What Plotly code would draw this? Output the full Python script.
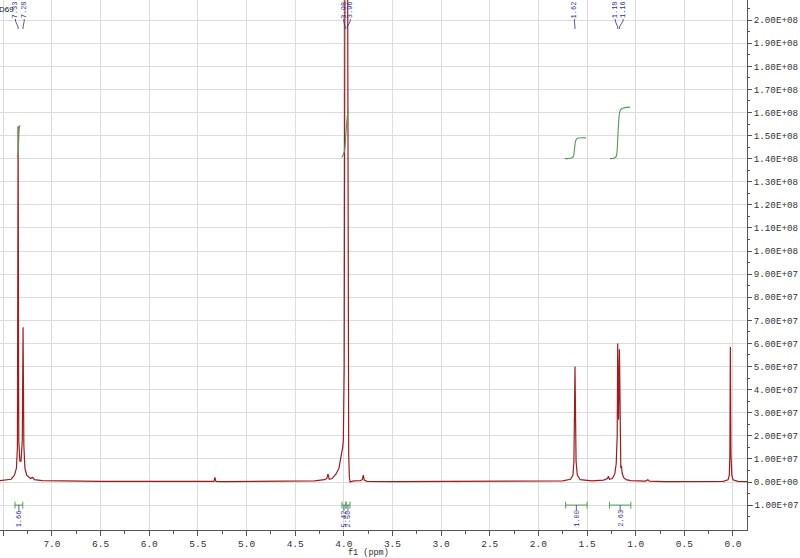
import plotly.graph_objects as go

# ---------------- data ----------------
ppm = [7.55, 7.42, 7.385, 7.365, 7.355, 7.348, 7.341, 7.33, 7.318, 7.305, 7.297, 7.289,
       7.278, 7.26, 7.22, 7.20, 7.18, 7.10, 6.5, 5.40, 5.335, 5.325, 5.315, 5.25,
       4.30, 4.20, 4.175, 4.163, 4.15, 4.12, 4.08, 4.05, 4.03, 4.012, 4.005, 3.996,
       3.986, 3.978, 3.972, 3.965, 3.958, 3.950, 3.943, 3.935, 3.90, 3.83, 3.81, 3.80,
       3.79, 3.76, 3.5, 2.5, 1.75, 1.67, 1.645, 1.635, 1.624, 1.613, 1.60, 1.57, 1.45,
       1.33, 1.29, 1.28, 1.27, 1.24, 1.215, 1.20, 1.19, 1.185, 1.176, 1.167, 1.160,
       1.153, 1.146, 1.140, 1.125, 1.10, 1.05, 0.90, 0.875, 0.86, 0.70, 0.10, 0.05,
       0.038, 0.032, 0.027, 0.021, 0.012, 0.0, -0.05, -0.15]
intensity_e7 = [0.05, 0.12, 0.3, 0.6, 1.5, 15.4, 1.8, 0.9, 0.9, 1.8, 6.7, 1.6,
                0.6, 0.3, 0.15, 0.2, 0.1, 0.06, 0.03, 0.02, 0.03, 0.2, 0.03, 0.02,
                0.05, 0.1, 0.15, 0.35, 0.12, 0.15, 0.35, 0.6, 1.0, 1.5, 1.8, 5.0,
                30.0, 26.0, 24.0, 30.0, 8.0, 1.2, 0.2, 0.0, 0.05, 0.06, 0.1, 0.3,
                0.08, 0.03, 0.02, 0.02, 0.05, 0.12, 0.3, 0.9, 5.0, 0.9, 0.3, 0.1, 0.05,
                0.08, 0.15, 0.25, 0.12, 0.15, 0.35, 0.8, 2.0, 6.0, 2.7, 5.75, 1.5,
                0.6, 0.7, 0.4, 0.2, 0.1, 0.06, 0.04, 0.1, 0.04, 0.02, 0.03, 0.1,
                0.3, 1.2, 5.85, 1.2, 0.3, 0.1, 0.03, 0.02]

# peak picking labels
peak_labels = ["7.33", "7.28", "3.98", "3.96", "1.62", "1.18", "1.16"]
peak_pos = [7.348, 7.297, 3.985, 3.965, 1.624, 1.185, 1.167]
label_pos = [7.375, 7.285, 4.002, 3.934, 1.630, 1.210, 1.130]

# integrals: region start, end, value
int_start = [7.38, 4.019, 3.978, 1.72, 1.27]
int_end = [7.30, 3.978, 3.937, 1.50, 1.05]
int_values = ["1.66", "5.42", "2.50", "1.00", "2.63"]

# integral curves (green), ppm and height
int_curve_7 = ([7.363, 7.350, 7.343, 7.336, 7.329], [1.41e8, 1.415e8, 1.47e8, 1.53e8, 1.545e8])
int_curve_4 = ([4.020, 3.995, 3.980, 3.965, 3.955], [1.405e8, 1.43e8, 1.50e8, 1.58e8, 1.61e8])
int_curve_16 = ([1.727, 1.66, 1.64, 1.632, 1.624, 1.615, 1.60, 1.51],
                [1.400e8, 1.403e8, 1.41e8, 1.43e8, 1.46e8, 1.48e8, 1.488e8, 1.49e8])
int_curve_11 = ([1.264, 1.22, 1.20, 1.19, 1.183, 1.175, 1.165, 1.15, 1.12, 1.058],
                [1.400e8, 1.403e8, 1.41e8, 1.44e8, 1.50e8, 1.56e8, 1.60e8, 1.615e8, 1.62e8, 1.623e8])

y_ticks = [v * 1e7 for v in range(-1, 21)]
x_ticks = [7.5, 7.0, 6.5, 6.0, 5.5, 5.0, 4.5, 4.0, 3.5, 3.0, 2.5, 2.0, 1.5, 1.0, 0.5, 0.0]
x_ticktext = [".5", "7.0", "6.5", "6.0", "5.5", "5.0", "4.5", "4.0", "3.5", "3.0",
              "2.5", "2.0", "1.5", "1.0", "0.5", "0.0"]

# ---------------- figure ----------------
RED = "#a01c1c"
GREEN = "#4f9e4f"
BLUE = "#2e3192"
FONT = "Liberation Mono"

fig = go.Figure()
fig.add_trace(go.Scatter(x=ppm, y=[v * 1e7 for v in intensity_e7], mode="lines",
                         line=dict(color=RED, width=1.2), hoverinfo="skip"))
for cx, cy in [int_curve_7, int_curve_4, int_curve_16, int_curve_11]:
    fig.add_trace(go.Scatter(x=cx, y=cy, mode="lines", line=dict(color=GREEN, width=1.1,
                             shape="spline"), hoverinfo="skip"))

PLOT_H = 530.0
PLOT_W = 747.0
def py(p):
    return 1 - p / PLOT_H

shapes = []
annotations = []
for txt, pk, lp in zip(peak_labels, peak_pos, label_pos):
    annotations.append(dict(x=lp, y=py(10), xref="x", yref="paper", text=txt,
                            textangle=-90, showarrow=False, font=dict(family=FONT, size=7, color=BLUE),
                            xanchor="center", yanchor="middle"))
    shapes.append(dict(type="path", xref="x", yref="paper",
                       path=f"M {lp},{py(19)} L {lp},{py(21)} L {pk},{py(27)} L {pk},{py(29)}",
                       line=dict(color=BLUE, width=0.8)))

for s, e, v in zip(int_start, int_end, int_values):
    c = (s + e) / 2
    shapes.append(dict(type="line", xref="x", yref="y", x0=s, x1=e, y0=-1e7, y1=-1e7,
                       line=dict(color=GREEN, width=1)))
    for xe in (s, e):
        shapes.append(dict(type="line", xref="x", yref="y", x0=xe, x1=xe, y0=-0.85e7, y1=-1.15e7,
                           line=dict(color=GREEN, width=1)))
    shapes.append(dict(type="line", xref="x", yref="y", x0=c, x1=c, y0=-1e7, y1=-1.25e7,
                       line=dict(color=BLUE, width=0.8)))
    annotations.append(dict(x=c, y=-1.58e7, xref="x", yref="y", text=v, textangle=-90,
                            showarrow=False, font=dict(family=FONT, size=7, color=BLUE),
                            xanchor="center", yanchor="middle"))

annotations.append(dict(x=0, y=1, xref="paper", yref="paper", text="D69", showarrow=False,
                        xanchor="left", yanchor="top", yshift=-3, xshift=-3,
                        font=dict(family="Liberation Sans", size=8, color="#111")))
annotations.append(dict(x=368 / PLOT_W, y=py(553), xref="paper", yref="paper", text="f1 (ppm)",
                        showarrow=False, font=dict(family=FONT, size=8.5, color="#333"),
                        xanchor="center", yanchor="middle"))

# y tick labels (the lowest one is right-aligned to the figure edge, like the reference)
y_ticktext = [f"{v:.2E}" for v in y_ticks]
annotations.append(dict(x=800 / PLOT_W, y=y_ticks[0], xref="paper", yref="y", text=y_ticktext[0],
                        showarrow=False, xanchor="right", yanchor="middle", xshift=1,
                        font=dict(family=FONT, size=9.2, color="#333")))
y_ticktext[0] = ""

fig.update_layout(
    width=800, height=558,
    margin=dict(l=0, r=53, t=0, b=28, autoexpand=False),
    paper_bgcolor="white", plot_bgcolor="white",
    showlegend=False,
    shapes=shapes, annotations=annotations,
    xaxis=dict(range=[7.534, -0.144], tickmode="array",
               tickvals=x_ticks, ticktext=x_ticktext,
               ticks="outside", ticklen=5, tickcolor="#555", showline=True, linecolor="#555",
               linewidth=1, showgrid=True, gridcolor="#dcdcdc", gridwidth=1, zeroline=False,
               tickfont=dict(family=FONT, size=9.5, color="#333"),
               minor=dict(dtick=0.25, tick0=0, ticks="outside", ticklen=3, tickcolor="#555",
                          showgrid=False)),
    yaxis=dict(range=[-2.078e7, 2.087e8], side="right", tickmode="array",
               tickvals=y_ticks, ticktext=y_ticktext,
               ticks="outside", ticklen=4, tickcolor="#555", showline=True, linecolor="#555",
               linewidth=1, showgrid=True, gridcolor="#dcdcdc", gridwidth=1, zeroline=False,
               tickfont=dict(family=FONT, size=9.2, color="#333"),
               minor=dict(dtick=1e7, tick0=5e6, ticks="outside", ticklen=2, tickcolor="#555",
                          showgrid=False)),
)

fig.write_html("out.html", config={"displayModeBar": False},
               post_script="document.body.style.margin='0';document.body.style.overflow='hidden';")
